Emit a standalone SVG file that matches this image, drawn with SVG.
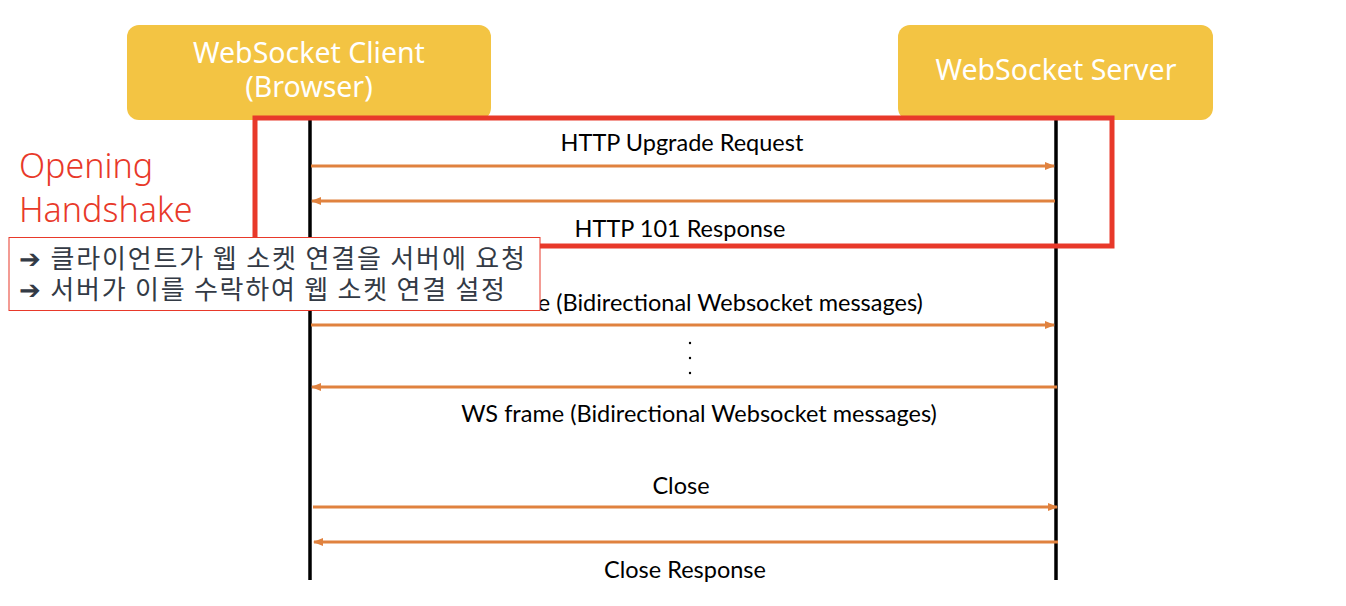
<svg xmlns="http://www.w3.org/2000/svg" width="1346" height="606" viewBox="0 0 1346 606">
<style>
.actor{fill:#F3C443}
.atext{font-family:"Noto Sans","Noto Sans CJK KR",sans-serif;font-size:28.5px;fill:#fff;text-anchor:middle}
.life{stroke:#000;stroke-width:3.5}
.msg{stroke:#E0823F;stroke-width:3;fill:none}
.lbl{font-family:Lato,"Liberation Sans",sans-serif;font-size:23.5px;fill:#000;text-anchor:middle}
.red{font-family:"Noto Sans",sans-serif;font-size:34px;fill:#E8392A;font-weight:300}
.note{font-family:"Noto Sans CJK KR",sans-serif;font-size:26px;fill:#333A45}
</style>
<defs>
<marker id="ah" markerWidth="10" markerHeight="8" refX="9" refY="4" orient="auto" markerUnits="userSpaceOnUse">
<path d="M0,0 L10,4 L0,8 Z" fill="#E0823F"/>
</marker>
</defs>
<rect width="1346" height="606" fill="#fff"/>
<g id="client">
<rect class="actor" x="127" y="25" width="364" height="95" rx="12"/>
<text class="atext" x="309" y="63">WebSocket Client</text>
<text class="atext" x="309" y="97">(Browser)</text>
</g>
<g id="server">
<rect class="actor" x="898" y="25" width="315" height="95" rx="12"/>
<text class="atext" x="1056" y="80">WebSocket Server</text>
</g>
<g id="lifelines">
<line class="life" x1="310" y1="120" x2="310" y2="580"/>
<line class="life" x1="1056" y1="120" x2="1056" y2="580"/>
</g>
<g id="connectors">
<line class="msg" x1="311" y1="166" x2="1054" y2="166" marker-end="url(#ah)"/>
<line class="msg" x1="1055" y1="201" x2="312" y2="201" marker-end="url(#ah)"/>
<line class="msg" x1="311" y1="325" x2="1054" y2="325" marker-end="url(#ah)"/>
<line class="msg" x1="1057" y1="387" x2="312" y2="387" marker-end="url(#ah)"/>
<line class="msg" x1="313" y1="507" x2="1057" y2="507" marker-end="url(#ah)"/>
<line class="msg" x1="1058" y1="542" x2="314" y2="542" marker-end="url(#ah)"/>
</g>
<g id="labels">
<text class="lbl" x="682" y="151">HTTP Upgrade Request</text>
<text class="lbl" x="680" y="237">HTTP 101 Response</text>
<text class="lbl" x="685" y="311">WS frame (Bidirectional Websocket messages)</text>
<text class="lbl" x="699" y="422">WS frame (Bidirectional Websocket messages)</text>
<text class="lbl" x="681" y="494">Close</text>
<text class="lbl" x="685" y="578">Close Response</text>
<circle cx="690" cy="343" r="1.2" fill="#000"/>
<circle cx="690" cy="358" r="1.2" fill="#000"/>
<circle cx="690" cy="373" r="1.2" fill="#000"/>
</g>
<g id="opening-handshake">
<rect x="255" y="118" width="857" height="128" fill="none" stroke="#E8392A" stroke-width="5"/>
<text class="red" x="19" y="178">Opening</text>
<text class="red" x="19" y="222">Handshake</text>
</g>
<g id="note">
<rect x="9" y="237.5" width="531" height="73" fill="#fff" stroke="#E8392A" stroke-width="1"/>
<text class="note" x="19" y="268" textLength="506" lengthAdjust="spacing">➔ 클라이언트가 웹 소켓 연결을 서버에 요청</text>
<text class="note" x="19" y="299" textLength="486" lengthAdjust="spacing">➔ 서버가 이를 수락하여 웹 소켓 연결 설정</text>
</g>
</svg>
